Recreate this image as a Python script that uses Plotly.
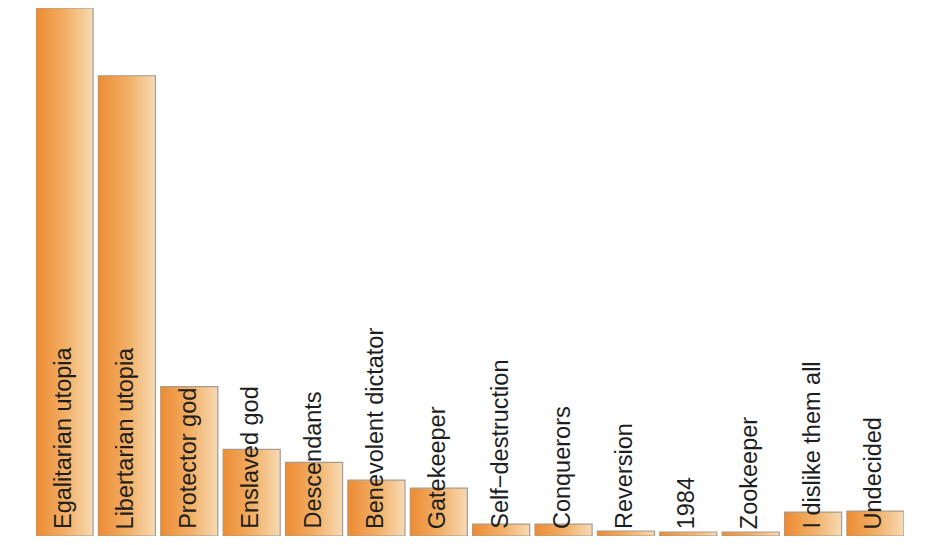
import plotly.graph_objects as go

# scenario names and vote share (arbitrary units)
scenarios = ["Egalitarian utopia", "Libertarian utopia", "Protector god",
             "Enslaved god", "Descendants", "Benevolent dictator",
             "Gatekeeper", "Self\u2212destruction", "Conquerors", "Reversion",
             "1984", "Zookeeper", "I dislike them all", "Undecided"]
votes = [106, 92.4, 30, 17.4, 14.8, 11.2, 9.6, 2.4, 2.4, 1.0, 0.8, 0.8, 4.8, 5.0]

bar_w = 0.915
fig = go.Figure()

# each bar is a filled polygon so it can carry a left-to-right gradient
for i, v in enumerate(votes):
    x0 = i - bar_w / 2
    x1 = i + bar_w / 2
    fig.add_trace(go.Scatter(
        x=[x0, x1, x1, x0, x0],
        y=[0, 0, v, v, 0],
        mode="lines",
        fill="toself",
        fillgradient=dict(type="horizontal",
                          colorscale=[[0, "#ed8b34"], [0.5, "#f2ae63"], [1, "#f8dab3"]]),
        line=dict(color="#a89a8c", width=1.2),
        hoverinfo="skip",
        showlegend=False,
    ))

for i, name in enumerate(scenarios):
    fig.add_annotation(
        x=i, y=0, text=name, textangle=-90,
        xanchor="center", yanchor="bottom", yshift=5, xshift=-2,
        showarrow=False,
        font=dict(family="Liberation Sans, Arial", size=23.5, color="#1e1e1e"),
    )

fig.update_xaxes(visible=False, range=[-bar_w / 2, len(votes) - 1 + bar_w / 2])
fig.update_yaxes(visible=False, range=[0, max(votes)])
fig.update_layout(
    width=937, height=545,
    margin=dict(l=28, r=41, t=0, b=17),
    paper_bgcolor="white",
    plot_bgcolor="white",
)

fig.write_html("out.html")
